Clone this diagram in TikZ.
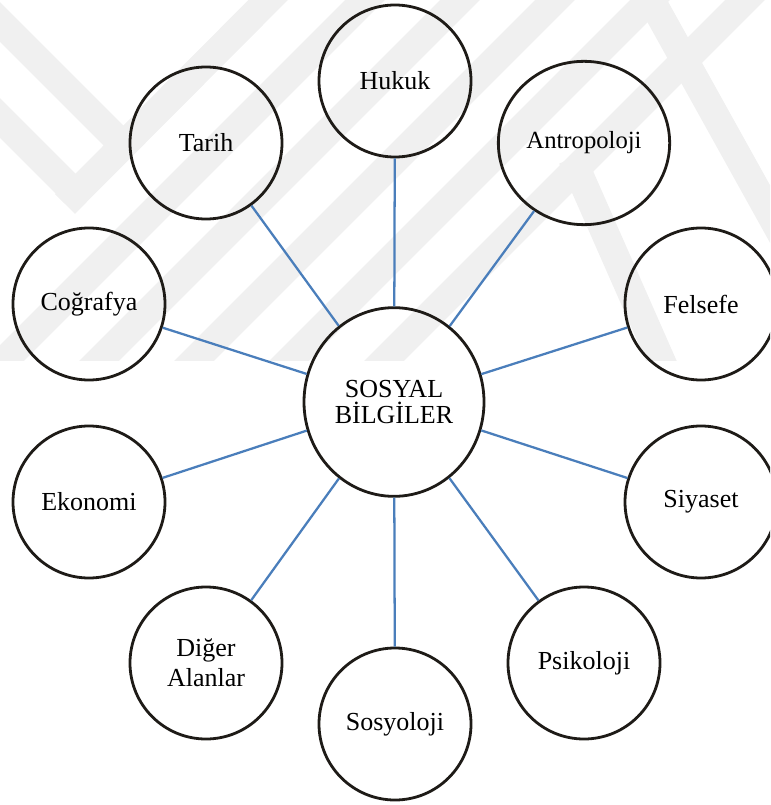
\documentclass[tikz,border=0pt]{standalone}
\usepackage{fontspec}
\setmainfont{Liberation Serif}
\usetikzlibrary{shapes.geometric}
\definecolor{linkblue}{HTML}{4A7EBB}
\definecolor{ringcol}{HTML}{1E1B17}
\definecolor{wmark}{HTML}{F0F0F0}
\tikzset{
  topic/.style={circle, draw=ringcol, line width=2.1pt,
    minimum size=114pt, inner sep=0pt, align=center,
    font=\fontsize{19.5pt}{22.5pt}\selectfont},
  link/.style={draw=linkblue, line width=1.7pt},
  band/.style={draw=wmark, line width=21pt, line cap=butt, line join=miter}
}
\begin{document}
\begin{tikzpicture}[x=0.75pt, y=-0.75pt]
\useasboundingbox (0,0) rectangle (770,805);
\clip (0,0) rectangle (770,805);
% faint watermark stripes
\begin{scope}
  \clip (0,0) rectangle (770,360);
  % left chevrons
  \draw[band] (-40,-18) -- (123,145);
  \draw[band] (-40,78) -- (75,193);
  \draw[band] (65,204) -- (300,-32);
  % rising stripes
  \draw[band] (-20,385) -- (400,-35);
  \draw[band] (75,385) -- (495,-35);
  \draw[band] (170,385) -- (590,-35);
  \draw[band] (265,385) -- (685,-35);
  \draw[band] (360,385) -- (780,-35);
  % falling stripes on the right
  \draw[band] (572,158) -- (672,385);
  \draw[band] (640,-20) -- (790,250);
\end{scope}
\node[topic, ellipse, minimum width=135pt, minimum height=141.5pt,
  font=\fontsize{19.5pt}{20pt}\selectfont] (sb) at (394,402) {SOSYAL\\BİLGİLER};
\node[topic] (hukuk) at (395,81) {Hukuk};
\node[topic] (tarih) at (206,143) {Tarih};
\node[topic, ellipse, minimum width=128.5pt, minimum height=122.5pt,
  font=\fontsize{18.5pt}{21pt}\selectfont] (antro) at (584,143) {Antropoloji};
\node[topic] (cog) at (89,304) {Coğrafya};
\node[topic] (fel) at (701,304) {Felsefe};
\node[topic] (eko) at (89,502) {Ekonomi};
\node[topic] (siy) at (701,502) {Siyaset};
\node[topic] (diger) at (206,663) {Diğer\\Alanlar};
\node[topic] (psi) at (584,663) {Psikoloji};
\node[topic] (sos) at (395,724) {Sosyoloji};
\foreach \t in {hukuk,tarih,antro,cog,fel,eko,siy,diger,psi,sos}
  \draw[link] (sb) -- (\t);
\end{tikzpicture}
\end{document}
